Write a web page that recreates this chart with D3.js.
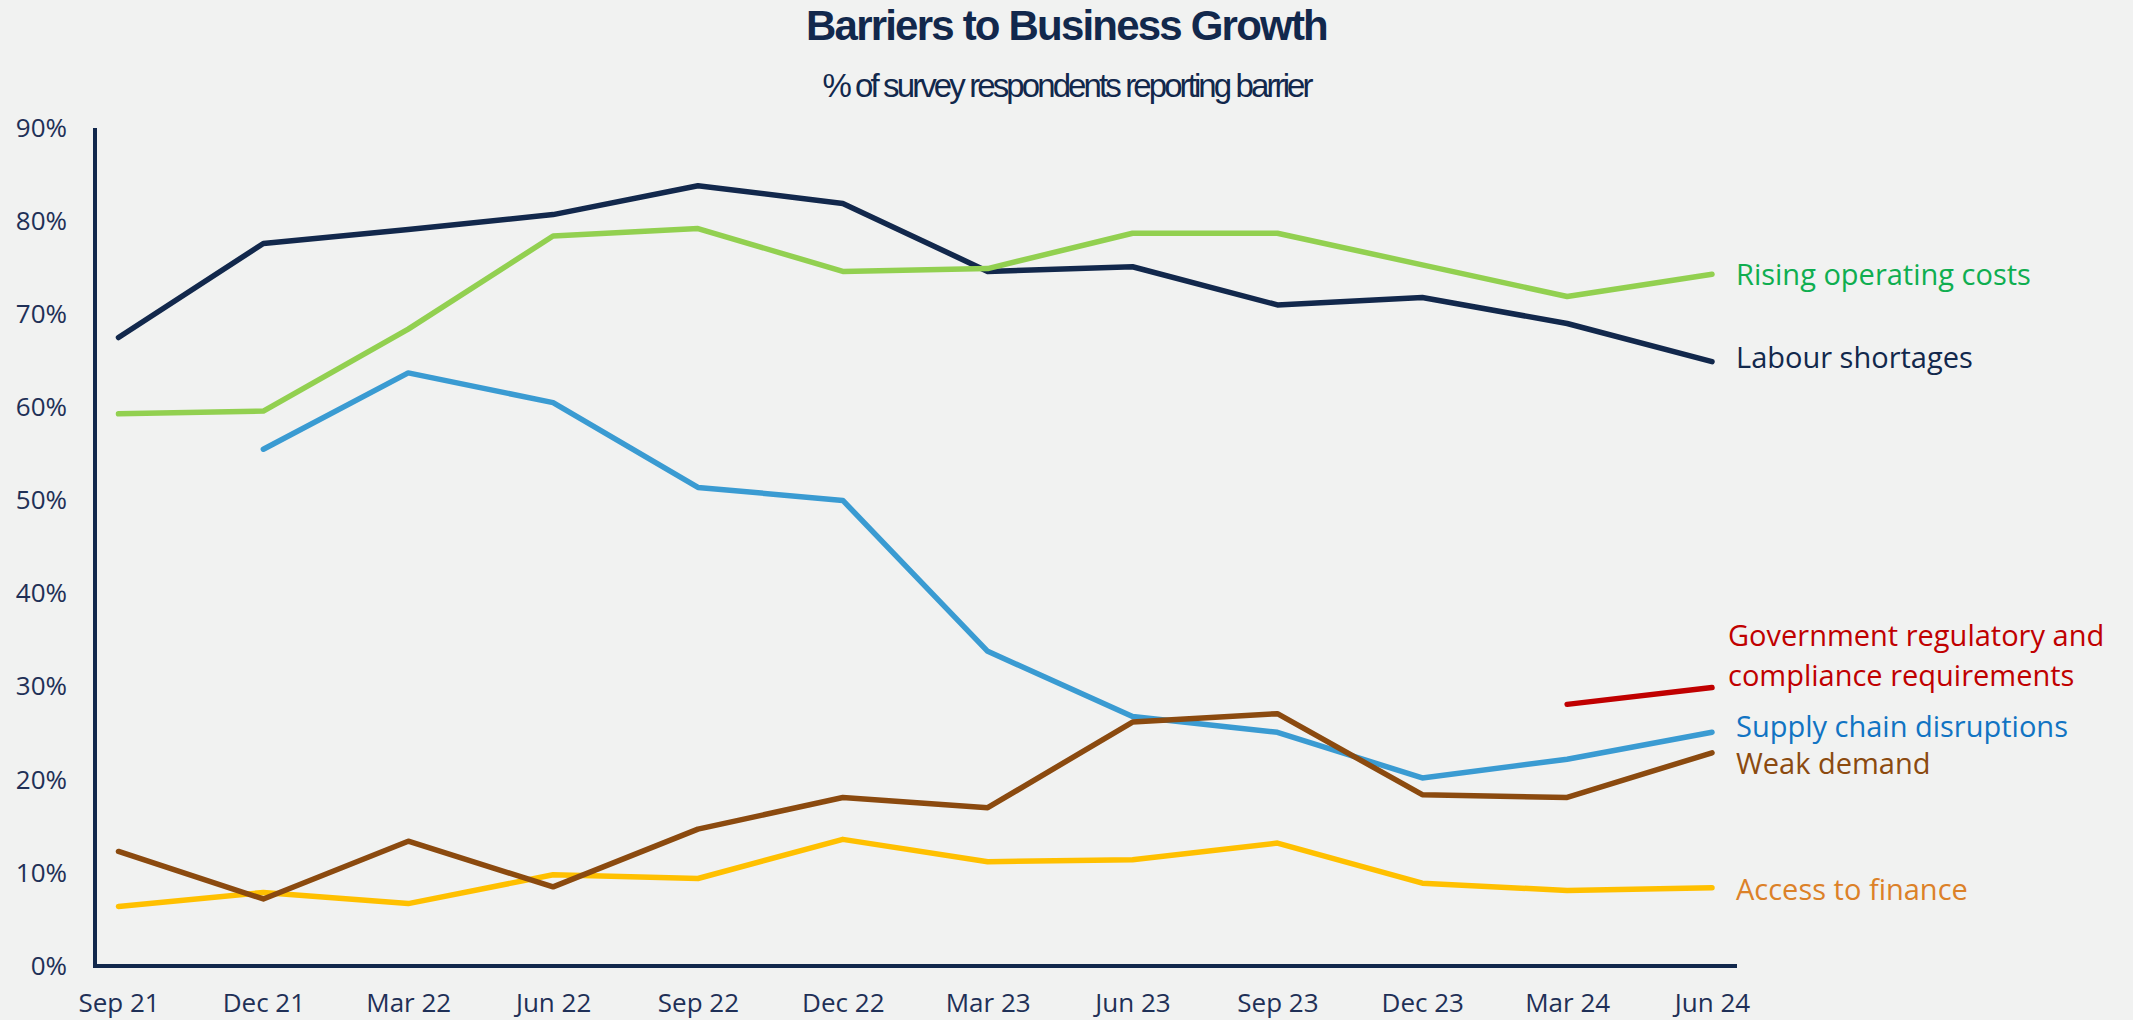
<!DOCTYPE html>
<html>
<head>
<meta charset="utf-8">
<script src="https://cdn.jsdelivr.net/npm/d3@7"></script>
<style>
  html, body { margin: 0; padding: 0; background: #f1f2f1; }
  svg { display: block; }
</style>
</head>
<body>
<div id="chart"></div>
<script>
// quarters on the x axis
const quarters = ['Sep 21', 'Dec 21', 'Mar 22', 'Jun 22', 'Sep 22', 'Dec 22', 'Mar 23', 'Jun 23', 'Sep 23', 'Dec 23', 'Mar 24', 'Jun 24'];
const yTicks = [0, 10, 20, 30, 40, 50, 60, 70, 80, 90];

// % of respondents
const labourShortages = [67.5, 77.6, 79.1, 80.7, 83.8, 81.9, 74.6, 75.1, 71.0, 71.8, 69.0, 64.9];
const risingCosts = [59.3, 59.6, 68.4, 78.4, 79.2, 74.6, 74.9, 78.7, 78.7, 75.3, 71.9, 74.3];
const supplyChain = [null, 55.5, 63.7, 60.5, 51.4, 50.0, 33.8, 26.8, 25.1, 20.2, 22.2, 25.1];
const weakDemand = [12.3, 7.2, 13.4, 8.5, 14.7, 18.1, 17.0, 26.2, 27.1, 18.4, 18.1, 22.9];
const accessFinance = [6.4, 7.9, 6.7, 9.8, 9.4, 13.6, 11.2, 11.4, 13.2, 8.9, 8.1, 8.4];
const govRegulation = [null, null, null, null, null, null, null, null, null, null, 28.1, 29.9];

const seriesNames = ['Access to finance', 'Supply chain disruptions', 'Weak demand', 'Labour shortages', 'Rising operating costs', 'Government regulatory and compliance requirements'];

const series = [
  { name: seriesNames[0], values: accessFinance, line: '#ffc000', text: '#dc8128', lines: ['Access to finance'], dy: 12, dx: 24 },
  { name: seriesNames[1], values: supplyChain, line: '#3a9bd2', text: '#1174c3', lines: ['Supply chain disruptions'], dy: 5, dx: 24 },
  { name: seriesNames[2], values: weakDemand, line: '#8b4a0f', text: '#8b4a0f', lines: ['Weak demand'], dy: 21, dx: 24 },
  { name: seriesNames[3], values: labourShortages, line: '#12284c', text: '#12284c', lines: ['Labour shortages'], dy: 6, dx: 24 },
  { name: seriesNames[4], values: risingCosts, line: '#92d050', text: '#0fae50', lines: ['Rising operating costs'], dy: 11, dx: 24 },
  { name: seriesNames[5], values: govRegulation, line: '#c00000', text: '#c00000', lines: ['Government regulatory and', 'compliance requirements'], dy: -42, dx: 16 }
];

const W = 2133, H = 1020;
const navy = '#12284c';

const svg = d3.select('#chart').append('svg')
  .attr('width', W)
  .attr('height', H);

const x = d3.scalePoint()
  .domain(quarters)
  .range([118.5, 1712]);

const y = d3.scaleLinear()
  .domain([0, 90])
  .range([966, 128]);

const axisX = 95;

// title + subtitle (squeezed like the original)
svg.append('text')
  .attr('x', W / 2)
  .attr('y', 40)
  .attr('text-anchor', 'middle')
  .attr('font-family', '"Liberation Sans", Arial, sans-serif')
  .attr('font-weight', 'bold')
  .attr('font-size', '42px')
  .attr('letter-spacing', '-1.8px')
  .attr('fill', navy)
  .text('Barriers to Business Growth');

svg.append('text')
  .attr('x', W / 2)
  .attr('y', 97)
  .attr('text-anchor', 'middle')
  .attr('font-family', '"Liberation Sans", Arial, sans-serif')
  .attr('font-size', '33px')
  .attr('letter-spacing', '-2.9px')
  .attr('fill', navy)
  .text('% of survey respondents reporting barrier');

// y axis labels
const yAxis = svg.append('g')
  .attr('transform', `translate(${axisX},0)`)
  .call(d3.axisLeft(y).tickValues(yTicks).tickSize(0).tickPadding(28).tickFormat(d => d + '%'));
yAxis.select('.domain').remove();
yAxis.selectAll('text')
  .attr('font-family', '"Open Sans", sans-serif')
  .attr('font-size', '26px')
  .attr('fill', '#1f3057');

// x axis labels
const xAxis = svg.append('g')
  .attr('transform', `translate(0,${y(0)})`)
  .call(d3.axisBottom(x).tickSize(0).tickPadding(28));
xAxis.select('.domain').remove();
xAxis.selectAll('text')
  .attr('font-family', '"Open Sans", sans-serif')
  .attr('font-size', '26px')
  .attr('fill', '#1f3057');

// axis lines
svg.append('line')
  .attr('x1', axisX).attr('x2', axisX)
  .attr('y1', y(90)).attr('y2', y(0) + 2)
  .attr('stroke', navy).attr('stroke-width', 4);

svg.append('line')
  .attr('x1', axisX - 2).attr('x2', x(quarters[quarters.length - 1]) + 25)
  .attr('y1', y(0)).attr('y2', y(0))
  .attr('stroke', navy).attr('stroke-width', 4);

// lines
const line = d3.line()
  .defined(d => d.v !== null)
  .x(d => x(d.q))
  .y(d => y(d.v));

series.forEach(s => {
  const pts = quarters.map((q, i) => ({ q: q, v: s.values[i] }));
  svg.append('path')
    .datum(pts)
    .attr('fill', 'none')
    .attr('stroke', s.line)
    .attr('stroke-width', 5.5)
    .attr('stroke-linecap', 'round')
    .attr('stroke-linejoin', 'round')
    .attr('d', line);
});

// end labels
series.forEach(s => {
  const last = s.values[s.values.length - 1];
  const lx = x(quarters[quarters.length - 1]) + s.dx;
  const ly = y(last) + s.dy;
  const t = svg.append('text')
    .attr('font-family', '"Open Sans", sans-serif')
    .attr('font-size', '29px')
    .attr('fill', s.text);
  s.lines.forEach((str, i) => {
    t.append('tspan')
      .attr('x', lx)
      .attr('y', ly + i * 40)
      .text(str);
  });
});
</script>
</body>
</html>
